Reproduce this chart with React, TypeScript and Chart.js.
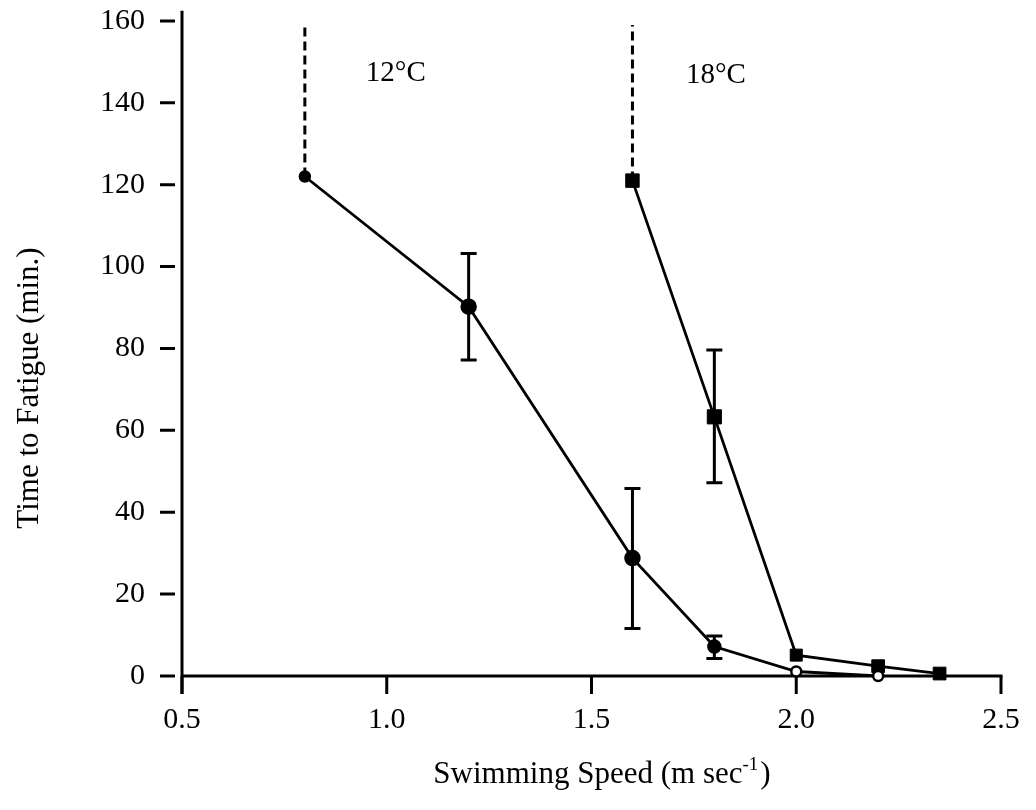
import React, { useEffect, useRef } from "react";
import { Chart, registerables } from "chart.js";

Chart.register(...registerables);

// 12 °C series
const speeds12 = [0.8, 1.2, 1.6, 1.8, 2.0, 2.2];
const times12 = [122, 90.2, 28.8, 7.2, 1.1, 0];
const errLow12: (number | null)[] = [null, 77.2, 11.6, 4.3, null, null];
const errHigh12: (number | null)[] = [null, 103.2, 45.8, 9.8, null, null];

// 18 °C series
const speeds18 = [1.6, 1.8, 2.0, 2.2, 2.35];
const times18 = [121, 63.3, 5.1, 2.4, 0.6];
const errLow18: (number | null)[] = [null, 47.2, null, null, null];
const errHigh18: (number | null)[] = [null, 79.6, null, null, null];

// dashed "did not fatigue" lines
const dashedSpeeds = [0.8, 1.6];
const dashedFrom = [122, 121];
const dashedTo = [159, 159];

// ticks
const xTicks = [0.5, 1.0, 1.5, 2.0, 2.5];
const yTicks = [0, 20, 40, 60, 80, 100, 120, 140, 160];

// temperature labels
const tempLabels = ["12°C", "18°C"];
const tempLabelX = [1.022, 1.804];
const tempLabelY = [147.3, 146.6];

const yTitle = "Time to Fatigue (min.)";
const xTitleMain = "Swimming Speed (m sec";
const xTitleSup = "-1";
const xTitleEnd = ")";

const FONT = "'Liberation Serif', 'Times New Roman', serif";

const overlayPlugin = {
  id: "overlay",
  beforeDatasetsDraw(chart: any) {
    const ctx = chart.ctx;
    const xs = chart.scales.x;
    const ys = chart.scales.y;
    ctx.save();
    ctx.strokeStyle = "#000";
    ctx.fillStyle = "#000";
    ctx.lineCap = "butt";
    const y0 = ys.getPixelForValue(0);
    const xl = xs.getPixelForValue(xTicks[0]);
    const xr = xs.getPixelForValue(xTicks[xTicks.length - 1]);
    // axes
    ctx.lineWidth = 3;
    ctx.beginPath();
    ctx.moveTo(xl, ys.top);
    ctx.lineTo(xl, y0 + 18);
    ctx.moveTo(xl, y0);
    ctx.lineTo(xr + 1.5, y0);
    ctx.stroke();
    // x ticks
    ctx.beginPath();
    xTicks.forEach((v) => {
      const px = xs.getPixelForValue(v);
      ctx.moveTo(px, y0);
      ctx.lineTo(px, y0 + 18);
    });
    ctx.stroke();
    // y ticks (short marks just left of axis)
    ctx.beginPath();
    yTicks.forEach((v) => {
      const py = ys.getPixelForValue(v);
      ctx.moveTo(xl - 22, py);
      ctx.lineTo(xl - 7, py);
    });
    ctx.stroke();
    // error bars
    ctx.lineWidth = 3;
    const drawErr = (sx: number[], lo: (number | null)[], hi: (number | null)[]) => {
      sx.forEach((s, i) => {
        const l = lo[i];
        const h = hi[i];
        if (l == null || h == null) return;
        const px = xs.getPixelForValue(s);
        const pl = ys.getPixelForValue(l);
        const ph = ys.getPixelForValue(h);
        ctx.beginPath();
        ctx.moveTo(px, pl);
        ctx.lineTo(px, ph);
        ctx.moveTo(px - 8, pl);
        ctx.lineTo(px + 8, pl);
        ctx.moveTo(px - 8, ph);
        ctx.lineTo(px + 8, ph);
        ctx.stroke();
      });
    };
    drawErr(speeds12, errLow12, errHigh12);
    drawErr(speeds18, errLow18, errHigh18);
    ctx.restore();
  },
  afterDraw(chart: any) {
    const ctx = chart.ctx;
    const xs = chart.scales.x;
    const ys = chart.scales.y;
    ctx.save();
    ctx.fillStyle = "#000";
    // temperature labels
    ctx.font = `29px ${FONT}`;
    ctx.textAlign = "center";
    ctx.textBaseline = "middle";
    tempLabels.forEach((t, i) => {
      ctx.fillText(t, xs.getPixelForValue(tempLabelX[i]), ys.getPixelForValue(tempLabelY[i]));
    });
    // y title
    ctx.save();
    ctx.translate(30, 388);
    ctx.rotate(-Math.PI / 2);
    ctx.font = `31px ${FONT}`;
    ctx.textAlign = "center";
    ctx.textBaseline = "middle";
    ctx.fillText(yTitle, 0, 0);
    ctx.restore();
    // x title with superscript
    ctx.font = `31px ${FONT}`;
    const wMain = ctx.measureText(xTitleMain).width;
    ctx.font = `19px ${FONT}`;
    const wSup = ctx.measureText(xTitleSup).width;
    ctx.font = `31px ${FONT}`;
    const wEnd = ctx.measureText(xTitleEnd).width;
    const total = wMain + wSup + 2 + wEnd;
    let cx = 602 - total / 2;
    const cy = 775;
    ctx.textAlign = "left";
    ctx.textBaseline = "middle";
    ctx.fillText(xTitleMain, cx, cy);
    cx += wMain;
    ctx.font = `19px ${FONT}`;
    ctx.fillText(xTitleSup, cx, cy - 10);
    cx += wSup + 2;
    ctx.font = `31px ${FONT}`;
    ctx.fillText(xTitleEnd, cx, cy);
    ctx.restore();
  },
};

export default function App() {
  const ref = useRef<HTMLCanvasElement | null>(null);

  useEffect(() => {
    if (!ref.current) return;
    const dashedSets = dashedSpeeds.map((s, i) => ({
      data: [
        { x: s, y: dashedFrom[i] },
        { x: s, y: dashedTo[i] },
      ],
      showLine: true,
      borderColor: "#000",
      borderWidth: 3,
      borderDash: [9, 5],
      pointRadius: 0,
      clip: false as any,
    }));
    const chart = new Chart(ref.current, {
      type: "scatter",
      data: {
        datasets: [
          ...dashedSets,
          {
            label: "12°C",
            data: speeds12.map((s, i) => ({ x: s, y: times12[i] })),
            showLine: true,
            borderColor: "#000",
            borderWidth: 2.8,
            pointStyle: "circle",
            pointRadius: [5, 7, 7, 6, 5, 5],
            pointBackgroundColor: ["#000", "#000", "#000", "#000", "#fff", "#fff"],
            pointBorderColor: "#000",
            pointBorderWidth: 2.5,
            clip: false as any,
          },
          {
            label: "18°C",
            data: speeds18.map((s, i) => ({ x: s, y: times18[i] })),
            showLine: true,
            borderColor: "#000",
            borderWidth: 2.8,
            pointStyle: "rect",
            pointRadius: [9.5, 10, 8.5, 9, 9],
            pointBackgroundColor: "#000",
            pointBorderColor: "#000",
            pointBorderWidth: 1,
            clip: false as any,
          },
        ],
      },
      options: {
        animation: false,
        responsive: false,
        devicePixelRatio: 1,
        layout: { padding: { left: 0, right: 35, top: 10.7, bottom: 0 } },
        plugins: { legend: { display: false }, tooltip: { enabled: false }, title: { display: false } },
        scales: {
          x: {
            type: "linear",
            min: 0.5,
            max: 2.5,
            grid: { display: false, drawTicks: false },
            border: { display: false },
            afterBuildTicks: (s: any) => {
              s.ticks = xTicks.map((v) => ({ value: v }));
            },
            afterFit: (s: any) => {
              s.height = 134;
              s.paddingLeft = 0;
              s.paddingRight = 0;
              s.paddingTop = 0;
              s.paddingBottom = 0;
            },
            ticks: {
              color: "#000",
              padding: 26,
              maxRotation: 0,
              autoSkip: false,
              font: { family: FONT, size: 30 },
              callback: (v: any) => Number(v).toFixed(1),
            },
          },
          y: {
            type: "linear",
            min: 0,
            max: 162.5,
            grid: { display: false, drawTicks: false },
            border: { display: false },
            afterBuildTicks: (s: any) => {
              s.ticks = yTicks.map((v) => ({ value: v }));
            },
            afterFit: (s: any) => {
              s.width = 182;
              s.paddingLeft = 0;
              s.paddingRight = 0;
              s.paddingTop = 0;
              s.paddingBottom = 0;
            },
            ticks: {
              color: "#000",
              padding: 37,
              autoSkip: false,
              font: { family: FONT, size: 30 },
              callback: (v: any) => String(v),
            },
          },
        },
      },
      plugins: [overlayPlugin],
    });
    return () => chart.destroy();
  }, []);

  return (
    <div style={{ position: "absolute", left: 0, top: 0, width: 1036, height: 810, background: "#fff" }}>
      <canvas ref={ref} width={1036} height={810} style={{ display: "block", width: 1036, height: 810 }} />
    </div>
  );
}
